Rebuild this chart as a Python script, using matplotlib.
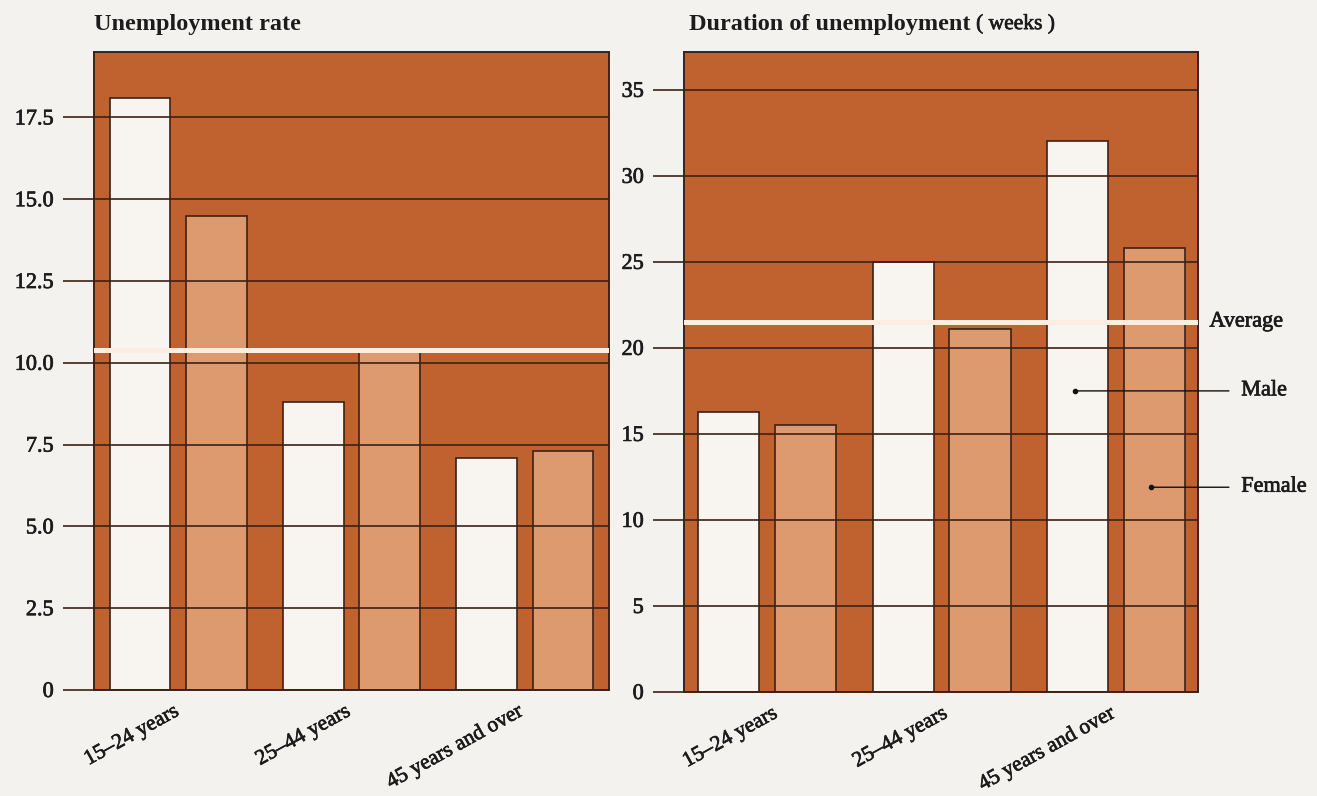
import matplotlib
matplotlib.use("Agg")
import matplotlib.pyplot as plt
import matplotlib.patheffects as pe
from matplotlib.transforms import blended_transform_factory

# ---------------- data ----------------
groups = ["15\u201324 years", "25\u201344 years", "45 years and over"]

rate_male = [18.1, 8.8, 7.1]
rate_female = [14.5, 10.4, 7.3]
rate_average = 10.4
rate_ticks = [0, 2.5, 5.0, 7.5, 10.0, 12.5, 15.0, 17.5]
rate_ticklabels = ["0", "2.5", "5.0", "7.5", "10.0", "12.5", "15.0", "17.5"]

dur_male = [16.3, 25.0, 32.0]
dur_female = [15.5, 21.1, 25.8]
dur_average = 21.5
dur_ticks = [0, 5, 10, 15, 20, 25, 30, 35]
dur_ticklabels = ["0", "5", "10", "15", "20", "25", "30", "35"]

# ---------------- style ----------------
FIG_BG = "#f4f2ef"
PLOT_BG = "#c0622f"
MALE_C = "#f8f4f0"
FEMALE_C = "#dc9a6e"
DARK = "#3b2218"
AVG_C = "#fbeee0"
TXT = "#1c1c1c"
SERIF = ["Liberation Serif", "DejaVu Serif"]
HEAVY = [pe.withStroke(linewidth=0.5, foreground=TXT)]

plt.rcParams["font.family"] = SERIF

fig = plt.figure(figsize=(13.17, 7.96), dpi=100, facecolor=FIG_BG)

ax1 = fig.add_axes([0.0714, 0.1332, 0.3910, 0.8015])
ax2 = fig.add_axes([0.5194, 0.1307, 0.3903, 0.8040])

OFF = 0.22
W = 0.35


def draw(ax, male, female, avg, ticks, ticklabels, ylim, xlim, label_x):
    ax.set_facecolor(PLOT_BG)
    x = list(range(len(groups)))
    ax.bar([i - OFF for i in x], male, width=W, color=MALE_C,
           edgecolor=DARK, linewidth=1.2, zorder=1)
    ax.bar([i + OFF for i in x], female, width=W, color=FEMALE_C,
           edgecolor=DARK, linewidth=1.2, zorder=1)
    ax.set_xlim(*xlim)
    ax.set_ylim(*ylim)
    ax.set_yticks(ticks)
    ax.set_yticklabels(ticklabels, fontsize=16, color=TXT)
    ax.tick_params(axis="y", length=22, width=1.2, color=DARK, pad=7)
    ax.yaxis.grid(True, color=DARK, linewidth=1.2)
    ax.set_axisbelow(False)
    ax.axhline(avg, color=AVG_C, linewidth=3.6, zorder=3)
    ax.set_xticks(label_x)
    ax.set_xticklabels(groups, rotation=29, ha="right",
                       rotation_mode="anchor", fontsize=15.5, color=TXT)
    ax.tick_params(axis="x", length=0, pad=9)
    for lab in ax.get_xticklabels() + ax.get_yticklabels():
        lab.set_path_effects(HEAVY)
    for s in ax.spines.values():
        s.set_color(DARK)
        s.set_linewidth(1.4)


draw(ax1, rate_male, rate_female, rate_average, rate_ticks, rate_ticklabels,
     (0, 19.5), (-0.485, 2.485), [-0.03, 0.96, 1.955])
draw(ax2, dur_male, dur_female, dur_average, dur_ticks, dur_ticklabels,
     (0, 37.2), (-0.476, 2.47), [0.025, 1.0, 1.96])

# titles
ax1.text(0, 1.043, "Unemployment rate", transform=ax1.transAxes,
         fontsize=17.5, fontweight="bold", va="center", ha="left", color=TXT)
t2 = ax2.text(0.01, 1.043, "Duration of unemployment", transform=ax2.transAxes,
              fontsize=17.5, fontweight="bold", va="center", ha="left", color=TXT)
ax2.annotate(" ( weeks )", xy=(1, 0.5), xycoords=t2, va="center", ha="left",
             fontsize=15.5, color=TXT, path_effects=HEAVY)

# legend annotations on right panel
tr = blended_transform_factory(ax2.transAxes, ax2.transData)
ax2.text(1.022, dur_average, "Average", transform=tr, fontsize=16,
         va="center", ha="left", color=TXT, path_effects=HEAVY)

male_pt = (2 - OFF - 0.015, 17.5)
female_pt = (2 + OFF - 0.02, 11.9)
for pt, lab in [(male_pt, "Male"), (female_pt, "Female")]:
    ax2.plot([pt[0]], [pt[1]], "o", color="#111111", markersize=3,
             zorder=5, clip_on=False)
    ax2.annotate("", xy=pt, xycoords="data", xytext=(1.06, pt[1]),
                 textcoords=tr,
                 arrowprops=dict(arrowstyle="-", color="#111111", lw=1.0,
                                 shrinkA=0, shrinkB=0),
                 annotation_clip=False, zorder=5)
    ax2.text(1.084, pt[1], lab, transform=tr, fontsize=16,
             va="center", ha="left", color=TXT, path_effects=HEAVY)

fig.savefig("out.png", dpi=100, facecolor=FIG_BG)
